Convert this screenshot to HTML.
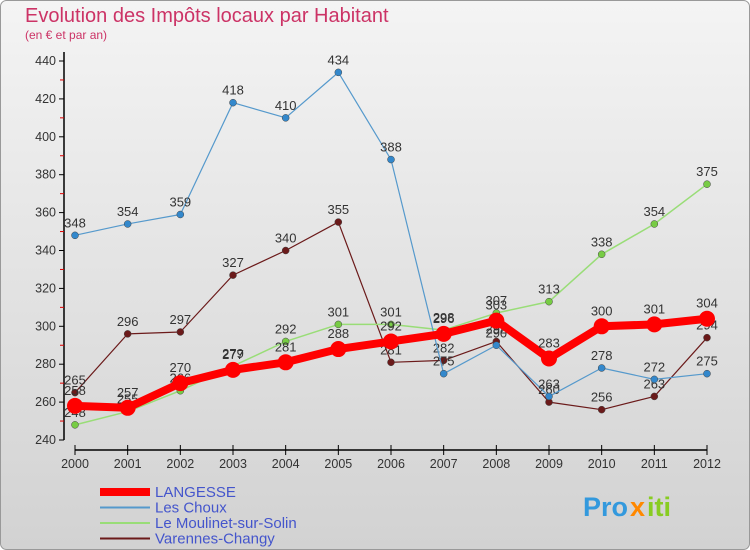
<!DOCTYPE html>
<html><head><meta charset="utf-8"><style>
body{margin:0}
#c{width:750px;height:550px;position:relative;font-family:"Liberation Sans","DejaVu Sans",sans-serif;overflow:hidden}
</style></head><body>
<div id="c">
<svg id="s" width="750" height="550" xmlns="http://www.w3.org/2000/svg">
<defs><linearGradient id="bg" x1="0" y1="0" x2="0" y2="1"><stop offset="0" stop-color="#f4f4f4"/><stop offset="1" stop-color="#d2d2d2"/></linearGradient></defs>
<rect x="0.5" y="0.5" width="749" height="549" rx="6" fill="url(#bg)" stroke="#999"/>
<text x="25" y="22" font-size="20" fill="#cc3366">Evolution des Impôts locaux par Habitant</text>
<text x="25" y="39" font-size="12" fill="#cc3366">(en € et par an)</text>
<g id="axes"></g><g id="series"></g><g id="legend"></g>
<g font-size="27" font-weight="bold" font-family="Liberation Sans,sans-serif">
<text x="583" y="516" fill="#3399dd">Pro</text><text x="630" y="516" fill="#ff8800">x</text><text x="647" y="516" fill="#88cc22">iti</text></g>
</svg></div>
<script>
const years=[2000,2001,2002,2003,2004,2005,2006,2007,2008,2009,2010,2011,2012];
const langesse=[258,257,270,277,281,288,292,296,303,283,300,301,304];
const lesChoux=[348,354,359,418,410,434,388,275,290,263,278,272,275];
const moulinet=[248,255,266,279,292,301,301,298,307,313,338,354,375];
const varennes=[265,296,297,327,340,355,281,282,292,260,256,263,294];
const yTicks=[240,260,280,300,320,340,360,380,400,420,440];
const NS="http://www.w3.org/2000/svg";
const X=i=>75+i*(707-75)/(years.length-1);
const Y=v=>440-(v-240)*379/200;
function mk(tag,attrs,parent,txt){const e=document.createElementNS(NS,tag);for(const k in attrs)e.setAttribute(k,attrs[k]);if(txt!==undefined)e.textContent=txt;parent.appendChild(e);return e;}
const ax=document.getElementById('axes');
let e=mk('line',{x1:64,y1:52,x2:64,y2:440,stroke:'#000','stroke-width':1.5},ax);

e=mk('line',{x1:75,y1:450,x2:707,y2:450,stroke:'#000','stroke-width':1.5},ax);

yTicks.forEach((t,i)=>{
 mk('line',{x1:59,y1:Y(t),x2:64,y2:Y(t),stroke:'#000'},ax);
 if(i<yTicks.length-1)mk('line',{x1:60,y1:Y(t+10),x2:64,y2:Y(t+10),stroke:'#d00'},ax);
 e=mk('text',{x:56,y:Y(t)+4,'font-size':12.5,'text-anchor':'end',fill:'#333'},ax,t);
 
});
years.forEach((yr,i)=>{
 mk('line',{x1:X(i),y1:445,x2:X(i),y2:455,stroke:'#000'},ax);
 e=mk('text',{x:X(i),y:468,'font-size':12.5,'text-anchor':'middle',fill:'#333'},ax,yr);
 
});
const sg=document.getElementById('series');
const defs=[
 {name:'varennes',label:'Varennes-Changy',data:varennes,color:'#6b1a1a',w:1.2,r:3.5,fill:'#6b1a1a'},
 {name:'moulinet',label:'Le Moulinet-sur-Solin',data:moulinet,color:'#99dd77',w:1.5,r:3.5,fill:'#77cc44'},
 {name:'les-choux',label:'Les Choux',data:lesChoux,color:'#5599cc',w:1.2,r:3.5,fill:'#3388cc'},
 {name:'langesse',label:'LANGESSE',data:langesse,color:'#ff0000',w:8,r:8,fill:'#ff0000'}
];
defs.forEach(d=>{
 const g=mk('g',{},sg);
 
 let p=mk('polyline',{points:d.data.map((v,i)=>X(i)+','+Y(v)).join(' '),fill:'none',stroke:d.color,'stroke-width':d.w,'stroke-linejoin':'round'},g);
 
 d.data.forEach((v,i)=>{
  let c=mk('circle',{cx:X(i),cy:Y(v),r:d.r,fill:d.fill,stroke:d.name==='langesse'?'none':'#444','stroke-width':0.5},g);
  
  let t=mk('text',{x:X(i),y:Y(v)-(d.name==='langesse'?11:8),'font-size':13,'text-anchor':'middle',fill:'#333'},g,v);
  
 });
});
const lg=document.getElementById('legend');
const leg=[defs[3],defs[2],defs[1],defs[0]];
leg.forEach((d,i)=>{
 const y=492+i*15.5;
 const g=mk('g',{},lg);
 
 mk('line',{x1:100,y1:y,x2:150,y2:y,stroke:d.color,'stroke-width':d.name==='langesse'?8:2},g);
 mk('text',{x:155,y:y+5,'font-size':15,fill:'#4455cc'},g,d.label);
});
</script>
</body></html>
